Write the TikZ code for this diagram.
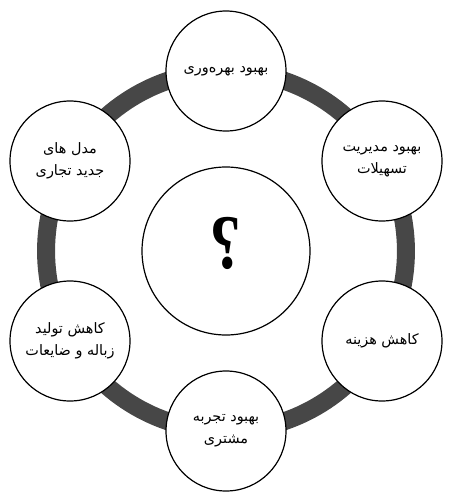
\documentclass[tikz,border=0pt]{standalone}
\usepackage{fontspec}
\usepackage{graphicx}
\newfontfamily\arabicfont[Script=Arabic]{DejaVu Sans}
\newfontfamily\qfont{Liberation Serif}
\TeXXeTstate=1
\usetikzlibrary{backgrounds}
\newcommand{\fa}[1]{{\arabicfont\beginR #1\endR}}
\tikzset{
  x=0.75pt, y=-0.75pt,
  bubble/.style={circle, draw=black, line width=0.9pt, fill=white, minimum size=90pt, inner sep=0pt, align=center, font=\fontsize{10.8}{16.5}\selectfont},
  hub/.style={circle, draw=black, line width=0.9pt, fill=white, minimum size=126pt, inner sep=0pt},
  ring/.style={draw=black!72, line width=13.5pt, bend left=30, looseness=0.91}
}
\begin{document}
\begin{tikzpicture}
\useasboundingbox (0,0) rectangle (450,500);
\node[hub] (c0) at (226,251) {\raisebox{-13pt}[0pt][0pt]{\scalebox{-0.82}[1]{\fontsize{58}{58}\selectfont\qfont\bfseries ?}}};
\node[bubble] (n1) at (226,71) {\fa{بهبود بهره‌وری}};
\node[bubble] (n2) at (382,161) {\fa{بهبود مدیریت}\\\fa{تسهیلات}};
\node[bubble] (n3) at (382,341) {\fa{کاهش هزینه}};
\node[bubble] (n4) at (226,431) {\fa{بهبود تجربه}\\\fa{مشتری}};
\node[bubble] (n5) at (70,341) {\fa{کاهش تولید}\\\fa{زباله و ضایعات}};
\node[bubble] (n6) at (70,161) {\fa{مدل های}\\\fa{جدید تجاری}};
\begin{scope}[on background layer]
\draw[ring] (n1.center) to (n2.center);
\draw[ring] (n2.center) to (n3.center);
\draw[ring] (n3.center) to (n4.center);
\draw[ring] (n4.center) to (n5.center);
\draw[ring] (n5.center) to (n6.center);
\draw[ring] (n6.center) to (n1.center);
\end{scope}
\end{tikzpicture}
\end{document}
